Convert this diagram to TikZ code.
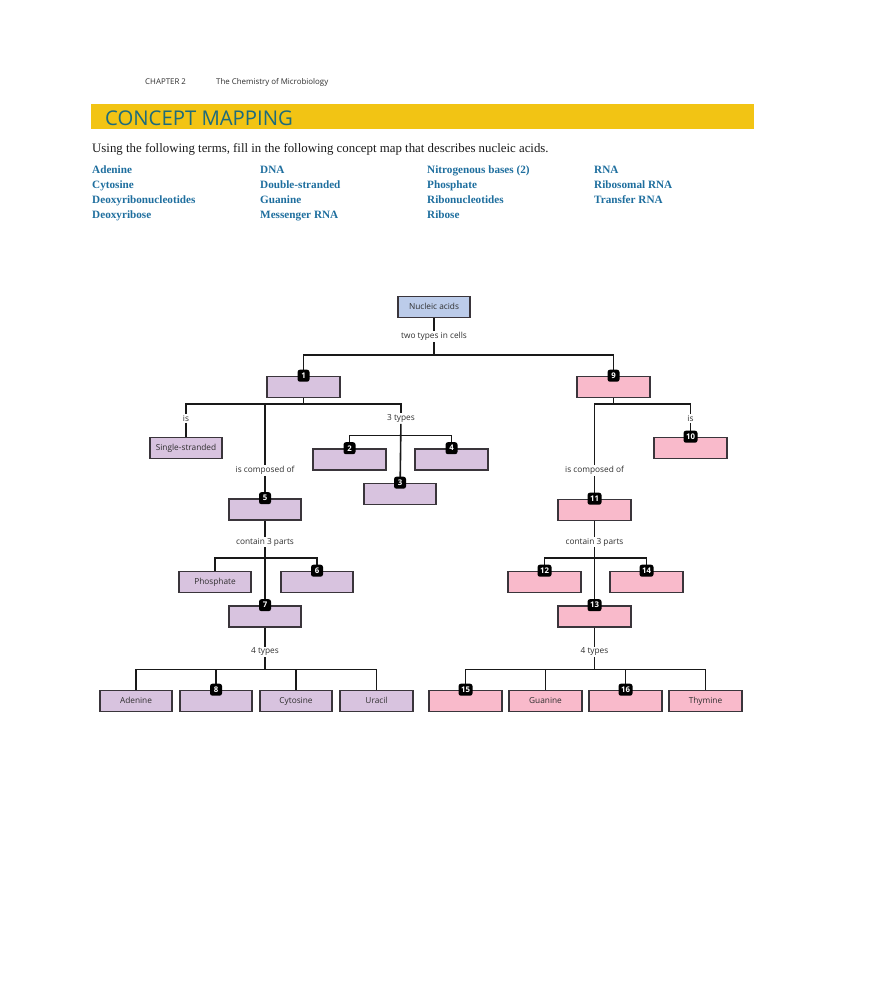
\documentclass[tikz,border=0pt]{standalone}
\usepackage{fontspec}
\setmainfont{Liberation Serif}
\setsansfont{Open Sans}
\usetikzlibrary{positioning}
\definecolor{purpfill}{HTML}{D8C3DF}
\definecolor{pinkfill}{HTML}{F9BACB}
\definecolor{bluefill}{HTML}{BCCCEA}
\definecolor{boxline}{HTML}{3A353B}
\definecolor{barcol}{HTML}{F2C414}
\definecolor{headcol}{HTML}{1D6B7C}
\definecolor{termcol}{HTML}{1E6E9E}
\definecolor{txtgray}{HTML}{2E2E2E}
\tikzset{
  cbox/.style={draw=boxline, line width=1.6pt, minimum width=72.5pt, minimum height=21pt, inner sep=0pt,
    font=\sffamily\fontsize{8.3}{9}\selectfont, text=txtgray, text height=6.2pt, text depth=1.6pt},
  pbox/.style={cbox, fill=purpfill},
  kbox/.style={cbox, fill=pinkfill},
  bbox/.style={cbox, fill=bluefill},
  lab/.style={inner sep=1.2pt, font=\sffamily\fontsize{8.3}{9}\selectfont, text=txtgray},
  badge/.style={fill=black, rounded corners=2.4pt, text=white, inner sep=0pt, minimum width=12pt,
    minimum height=12pt, font=\sffamily\bfseries\fontsize{7.8}{8}\selectfont},
  conn/.style={draw=black!90, line width=1.6pt},
  term/.style={anchor=base west, inner sep=0pt, text=termcol, font=\bfseries\fontsize{11.2}{12}\selectfont},
}
\begin{document}
\begin{tikzpicture}[x=1pt,y=-1pt]
\useasboundingbox (0,0) rectangle (880,983);
% header
\node[anchor=base west, inner sep=0pt, font=\sffamily\fontsize{7.9}{9}\selectfont, text=txtgray] (chap) at (145,84) {CHAPTER 2};
\node[anchor=base west, inner sep=0pt, font=\sffamily\fontsize{7.9}{9}\selectfont, text=txtgray] (chapt) at (216,84) {The Chemistry of Microbiology};
\fill[barcol] (91,104) rectangle (754,129);
\node[anchor=base west, inner sep=0pt, font=\sffamily\fontsize{20.3}{24}\selectfont, text=headcol] (head) at (105,125.5) {CONCEPT MAPPING};
\node[anchor=base west, inner sep=0pt, font=\fontsize{12.85}{14}\selectfont, text=black!90] (instr) at (92,152) {Using the following terms, fill in the following concept map that describes nucleic acids.};
% terms
\node[term] (t1) at (92,173) {Adenine};
\node[term] (t2) at (92,188) {Cytosine};
\node[term] (t3) at (92,203) {Deoxyribonucleotides};
\node[term] (t4) at (92,218) {Deoxyribose};
\node[term] (t5) at (260,173) {DNA};
\node[term] (t6) at (260,188) {Double-stranded};
\node[term] (t7) at (260,203) {Guanine};
\node[term] (t8) at (260,218) {Messenger RNA};
\node[term] (t9) at (427,173) {Nitrogenous bases (2)};
\node[term] (t10) at (427,188) {Phosphate};
\node[term] (t11) at (427,203) {Ribonucleotides};
\node[term] (t12) at (427,218) {Ribose};
\node[term] (t13) at (594,173) {RNA};
\node[term] (t14) at (594,188) {Ribosomal RNA};
\node[term] (t15) at (594,203) {Transfer RNA};

% ---- boxes ----
\node[bbox] (na) at (434,307) {Nucleic acids};
\node[pbox] (b1) at (303.5,387) {};
\node[kbox] (b9) at (613.5,387) {};
\node[pbox] (ss) at (186,448) {Single-stranded};
\node[pbox] (b2) at (349.5,459.5) {};
\node[pbox] (b4) at (451.5,459.5) {};
\node[pbox] (b3) at (400,494) {};
\node[pbox] (b5) at (265,509.5) {};
\node[pbox] (ph) at (215,582) {Phosphate};
\node[pbox] (b6) at (317,582) {};
\node[pbox] (b7) at (265,616.5) {};
\node[pbox] (ad) at (136,701) {Adenine};
\node[pbox] (b8) at (216,701) {};
\node[pbox] (cy) at (296,701) {Cytosine};
\node[pbox] (ur) at (376.5,701) {Uracil};
\node[kbox] (b10) at (690.5,448) {};
\node[kbox] (b11) at (594.5,510) {};
\node[kbox] (b12) at (544.5,582) {};
\node[kbox] (b14) at (646.5,582) {};
\node[kbox] (b13) at (594.5,616.5) {};
\node[kbox] (b15) at (465.5,701) {};
\node[kbox] (gu) at (545.5,701) {Guanine};
\node[kbox] (b16) at (625.5,701) {};
\node[kbox] (th) at (705.5,701) {Thymine};

% ---- labels ----
\node[lab] (l0) at (434,336.5) {two types in cells};
\node[lab] (lis1) at (186,418.5) {is};
\node[lab] (l3t) at (401,418.5) {3 types};
\node[lab] (lco1) at (265,470.5) {is composed of};
\node[lab] (lcp1) at (265,542) {contain 3 parts};
\node[lab] (l4t1) at (265,652) {4 types};
\node[lab] (lis2) at (690.5,418.5) {is};
\node[lab] (lco2) at (594.5,470.5) {is composed of};
\node[lab] (lcp2) at (594.5,542) {contain 3 parts};
\node[lab] (l4t2) at (594.5,652) {4 types};

% ---- junctions ----
\coordinate (j0) at (434,355);
\coordinate (j1) at (303.5,404);
\coordinate (j3) at (401,435.5);
\coordinate (j5) at (265,558);
\coordinate (j7) at (265,669.5);
\coordinate (j9) at (613.5,404);
\coordinate (j11) at (594.5,558);
\coordinate (j13) at (594.5,669.5);

% ---- connectors ----
\draw[conn] (na) -- (l0);
\draw[conn] (l0) -- (j0);
\draw[conn] (b1.north) |- (j0) -| (b9.north);
\draw[conn] (b1) -- (j1);
\draw[conn] (lis1.north) |- (j1) -| (l3t.north);
\draw[conn] (lis1) -- (ss);
\draw[conn] (lco1.north) -- (lco1.north |- j1);
\draw[conn] (lco1) -- (b5);
\draw[conn] (l3t) -- (b3);
\draw[conn] (b2.north) |- (j3) -| (b4.north);
\draw[conn] (b5) -- (lcp1);
\draw[conn] (lcp1) -- (b7);
\draw[conn] (ph.north) |- (j5) -| (b6.north);
\draw[conn] (b7) -- (l4t1);
\draw[conn] (l4t1) -- (j7);
\draw[conn] (ad.north) |- (j7) -| (ur.north);
\draw[conn] (b8.north) -- (b8.north |- j7);
\draw[conn] (cy.north) -- (cy.north |- j7);
% right
\draw[conn] (b9) -- (j9);
\draw[conn] (lco2.north) |- (j9) -| (lis2.north);
\draw[conn] (lis2) -- (b10);
\draw[conn] (lco2) -- (b11);
\draw[conn] (b11) -- (lcp2);
\draw[conn] (lcp2) -- (b13);
\draw[conn] (b12.north) |- (j11) -| (b14.north);
\draw[conn] (b13) -- (l4t2);
\draw[conn] (l4t2) -- (j13);
\draw[conn] (b15.north) |- (j13) -| (th.north);
\draw[conn] (gu.north) -- (gu.north |- j13);
\draw[conn] (b16.north) -- (b16.north |- j13);

% ---- badges ----
\node[badge] (k1) at (b1.north) {1};
\node[badge] (k2) at (b2.north) {2};
\node[badge] (k3) at (b3.north) {3};
\node[badge] (k4) at (b4.north) {4};
\node[badge] (k5) at (b5.north) {5};
\node[badge] (k6) at (b6.north) {6};
\node[badge] (k7) at (b7.north) {7};
\node[badge] (k8) at (b8.north) {8};
\node[badge] (k9) at (b9.north) {9};
\node[badge, minimum width=14pt] (k10) at (b10.north) {10};
\node[badge, minimum width=14pt] (k11) at (b11.north) {11};
\node[badge, minimum width=14pt] (k12) at (b12.north) {12};
\node[badge, minimum width=14pt] (k13) at (b13.north) {13};
\node[badge, minimum width=14pt] (k14) at (b14.north) {14};
\node[badge, minimum width=14pt] (k15) at (b15.north) {15};
\node[badge, minimum width=14pt] (k16) at (b16.north) {16};
\end{tikzpicture}
\end{document}
